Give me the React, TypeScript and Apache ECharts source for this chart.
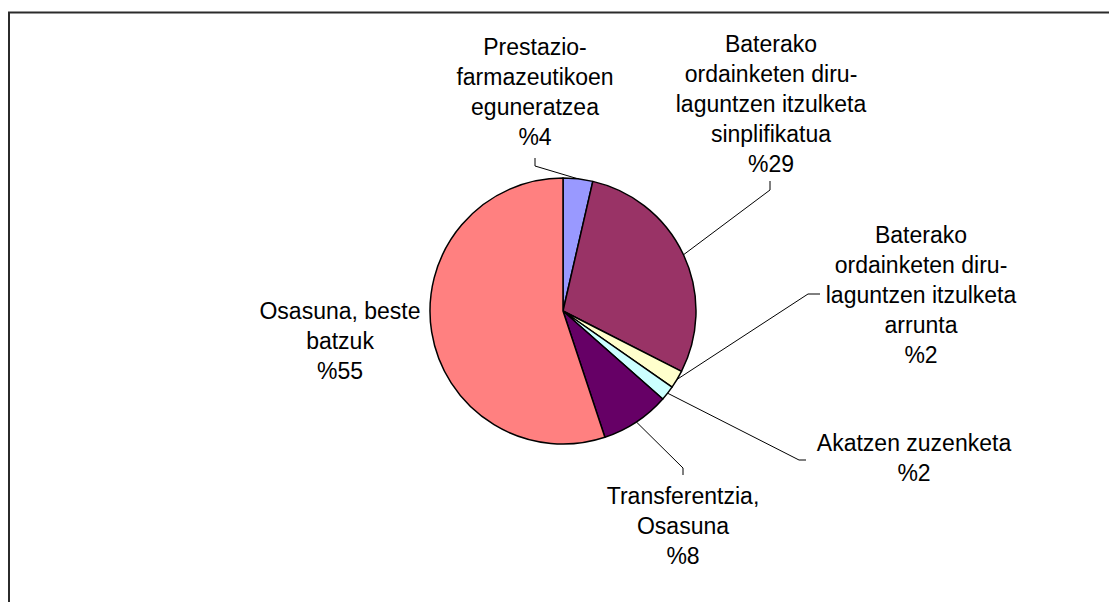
import React, { useEffect, useRef } from "react";
import * as echarts from "echarts";

const categories = [
  "Prestazio-\nfarmazeutikoen\neguneratzea",
  "Baterako\nordainketen diru-\nlaguntzen itzulketa\nsinplifikatua",
  "Baterako\nordainketen diru-\nlaguntzen itzulketa\narrunta",
  "Akatzen zuzenketa",
  "Transferentzia,\nOsasuna",
  "Osasuna, beste\nbatzuk",
];
const values = [3.6, 28.9, 2.2, 1.8, 8.4, 55.1];
const colors = ["#9999FF", "#993366", "#FFFFCC", "#CCFFFF", "#660066", "#FF8080"];

// label layout (page pixel positions of label block centres and leader elbows)
const labelCenters: number[][] = [
  [535, 92],
  [771, 104],
  [921, 295],
  [914, 458],
  [683, 526],
  [340, 341],
];
const leaderTails: (number[][] | null)[] = [
  [[535, 166], [535, 158]],
  [[770, 190], [770, 181]],
  [[808, 294], [820, 294]],
  [[799, 460], [806, 460]],
  [[683, 468], [683, 475]],
  null,
];

export default function App() {
  const ref = useRef<HTMLDivElement>(null);
  useEffect(() => {
    if (!ref.current) return;
    const chart = echarts.init(ref.current, null, { renderer: "svg" });
    chart.setOption({
      animation: false,
      backgroundColor: "#ffffff",
      graphic: [
        {
          type: "rect",
          shape: { x: 9, y: 12.5, width: 1300, height: 800 },
          style: { fill: "none", stroke: "#2b2b2b", lineWidth: 2 },
          silent: true,
        },
      ],
      series: [
        {
          type: "pie",
          center: [563, 311],
          radius: 133,
          startAngle: 90,
          clockwise: true,
          percentPrecision: 0,
          avoidLabelOverlap: false,
          itemStyle: { borderColor: "#000", borderWidth: 1.5 },
          label: {
            show: true,
            position: "outside",
            formatter: "{b}\n%{d}",
            fontFamily: "Liberation Sans, Arial, sans-serif",
            fontSize: 23,
            lineHeight: 30,
            color: "#000",
            align: "center",
          },
          labelLine: {
            show: true,
            length: 10,
            length2: 10,
            lineStyle: { color: "#000", width: 1 },
          },
          labelLayout: (params: any) => {
            const i = params.dataIndex;
            const c = labelCenters[i];
            const tail = leaderTails[i];
            const res: any = { x: c[0], y: c[1], align: "center", verticalAlign: "middle" };
            if (tail && params.labelLinePoints) {
              res.labelLinePoints = [params.labelLinePoints[0], tail[0], tail[1]];
            }
            return res;
          },
          data: categories.map((name, i) => ({
            name,
            value: values[i],
            itemStyle: { color: colors[i] },
            labelLine: { show: leaderTails[i] !== null },
          })),
        },
      ],
    });
    return () => chart.dispose();
  }, []);
  return (
    <div
      ref={ref}
      style={{ position: "absolute", left: 0, top: 0, width: 1109, height: 602 }}
    />
  );
}
